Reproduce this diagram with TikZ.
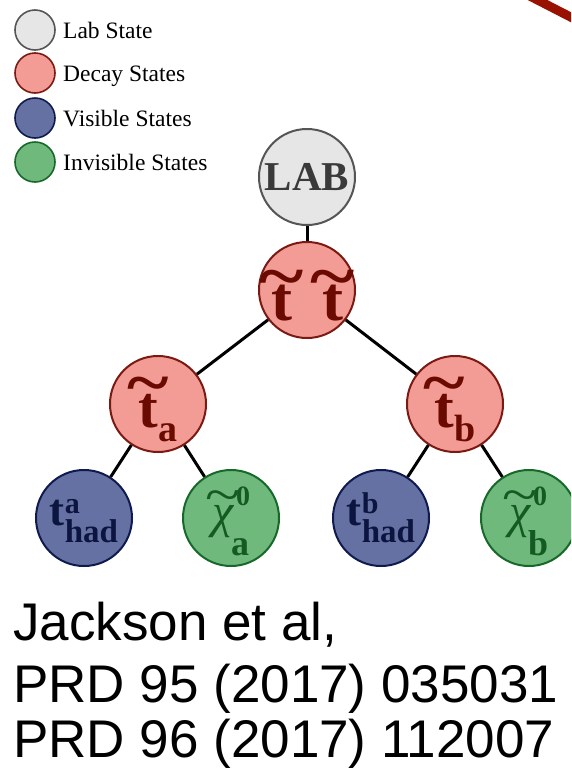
\documentclass[tikz,border=0pt]{standalone}
\usepackage{fontspec}
\setmainfont{Liberation Serif}
\newfontfamily\refsans{Liberation Sans}

% font size shortcut
\newcommand\fs[1]{\fontsize{#1}{#1}\selectfont}
% letter with a wide tilde raised above it: #1 raise, #2 letter
\newsavebox\tlbox
\newcommand\tl[2]{\sbox\tlbox{#2}\rlap{\hbox to\wd\tlbox{\hss\raisebox{#1}{\scalebox{1.35}[1.1]{\textasciitilde}}\hss}}\usebox\tlbox}

\definecolor{labfill}{HTML}{E6E6E6}
\definecolor{labdraw}{HTML}{555555}
\definecolor{labtext}{HTML}{3A3A3A}
\definecolor{decfill}{HTML}{F39C95}
\definecolor{decdraw}{HTML}{7B1A12}
\definecolor{dectext}{HTML}{6B0A00}
\definecolor{visfill}{HTML}{6671A3}
\definecolor{visdraw}{HTML}{0F1A4F}
\definecolor{vistext}{HTML}{0C1540}
\definecolor{invfill}{HTML}{6FB97C}
\definecolor{invdraw}{HTML}{17692A}
\definecolor{invtext}{HTML}{145A22}
\definecolor{barred}{HTML}{991100}

\begin{document}
\begin{tikzpicture}[x=1pt,y=-1pt,
  state/.style={circle,inner sep=0pt,minimum size=96pt,line width=2pt,text depth=0pt},
  labstate/.style={state,fill=labfill,draw=labdraw,text=labtext},
  decstate/.style={state,fill=decfill,draw=decdraw,text=dectext},
  visstate/.style={state,fill=visfill,draw=visdraw,text=vistext},
  invstate/.style={state,fill=invfill,draw=invdraw,text=invtext},
  keydot/.style={circle,inner sep=0pt,minimum size=40pt,line width=1.6pt},
  keytext/.style={anchor=base west,inner sep=0pt,font=\fs{23.5}},
  reftext/.style={anchor=base west,inner sep=0pt,font=\refsans\fs{53}},
  edge/.style={line width=3pt,black}]
\useasboundingbox (0,0) rectangle (571,769);
\clip (0,0) rectangle (571,769);

% corner stroke
\draw[barred,line width=9pt] (520,-9) -- (590,27);

% legend
\node[keydot,fill=labfill,draw=labdraw] (k1) at (35,30) {};
\node[keydot,fill=decfill,draw=decdraw] (k2) at (35,73) {};
\node[keydot,fill=visfill,draw=visdraw] (k3) at (35,118) {};
\node[keydot,fill=invfill,draw=invdraw] (k4) at (35,162) {};
\node[keytext] (t1) at (63,38) {Lab State};
\node[keytext] (t2) at (63,81) {Decay States};
\node[keytext] (t3) at (63,126) {Visible States};
\node[keytext] (t4) at (63,170) {Invisible States};

% decay tree
\node[labstate,text height=26pt,font=\bfseries\fs{41}] (lab) at (307,177) {LAB};
\node[decstate,text height=60pt,font=\bfseries\fs{63}] (tt) at (307,290)
  {\tl{21pt}{t}\hspace{30pt}\tl{21pt}{t}};
\node[decstate,text height=46pt,font=\bfseries\fs{59}] (ta) at (158,404)
  {\tl{23pt}{t}\raisebox{-14pt}{\fs{38}a}};
\node[decstate,text height=46pt,font=\bfseries\fs{59}] (tb) at (455,404)
  {\tl{23pt}{t}\raisebox{-14pt}{\fs{38}b}};
\node[visstate,text height=14pt,font=\bfseries\fs{45}] (ha) at (84,518)
  {t\rlap{\raisebox{12pt}{\fs{30}a}}\raisebox{-17pt}{\fs{33}had}};
\node[invstate,text height=18pt,font=\fs{48}] (ca) at (231,518)
  {\tl{15pt}{\itshape χ}\rlap{\kern2pt\raisebox{22pt}{\bfseries\fs{28}0}}\kern-3pt\raisebox{-28pt}{\bfseries\fs{36}a}};
\node[visstate,text height=14pt,font=\bfseries\fs{45}] (hb) at (381,518)
  {t\rlap{\raisebox{12pt}{\fs{30}b}}\raisebox{-17pt}{\fs{33}had}};
\node[invstate,text height=18pt,font=\fs{48}] (cb) at (529,518)
  {\tl{15pt}{\itshape χ}\rlap{\kern2pt\raisebox{22pt}{\bfseries\fs{28}0}}\kern-3pt\raisebox{-28pt}{\bfseries\fs{36}b}};

% connectors
\draw[edge] (lab) -- (tt);
\draw[edge] (tt) -- (ta);
\draw[edge] (tt) -- (tb);
\draw[edge] (ta) -- (ha);
\draw[edge] (ta) -- (ca);
\draw[edge] (tb) -- (hb);
\draw[edge] (tb) -- (cb);

% reference
\node[reftext] (r1) at (13,640) {Jackson et al,};
\node[reftext] (r2) at (13,702) {PRD 95 (2017) 035031};
\node[reftext] (r3) at (13,757) {PRD 96 (2017) 112007};
\end{tikzpicture}
\end{document}
